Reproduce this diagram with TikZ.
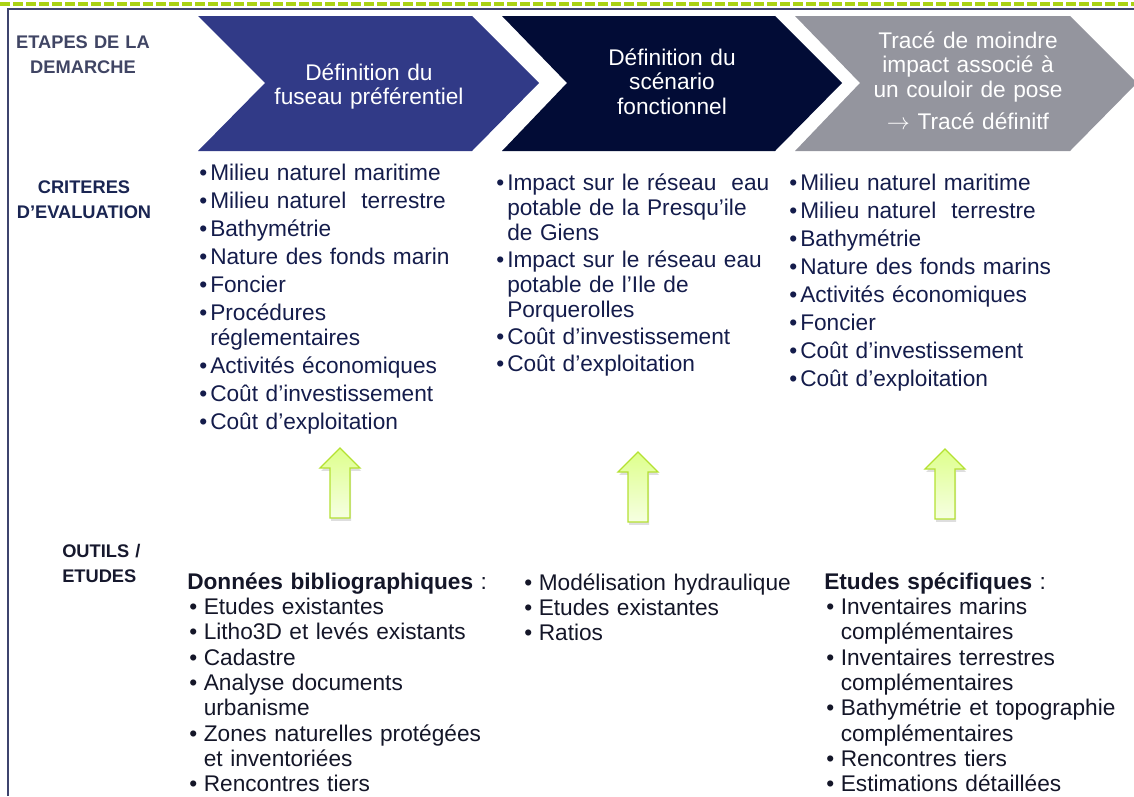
\documentclass[tikz,border=0pt]{standalone}
\usepackage{fontspec}
\setmainfont{Liberation Sans}
\usetikzlibrary{shadows}

\definecolor{stepblue}{RGB}{49,58,135}
\definecolor{stepnavy}{RGB}{2,12,54}
\definecolor{stepgray}{RGB}{148,149,158}
\definecolor{framecol}{RGB}{62,68,110}
\definecolor{dashgreen}{RGB}{170,210,20}
\definecolor{lblgray}{RGB}{64,69,100}
\definecolor{lblnavy}{RGB}{26,37,82}
\definecolor{lbldark}{RGB}{22,24,45}
\definecolor{crittext}{RGB}{20,28,75}
\definecolor{tooltext}{RGB}{20,22,40}
\definecolor{arrowedge}{RGB}{180,225,50}
\definecolor{arrowtop}{RGB}{222,255,140}
\definecolor{arrowbot}{RGB}{246,255,226}

\newcommand{\critbul}{\makebox[8.25pt][l]{•}}
\newcommand{\critind}{\hspace*{8.25pt}}
\newcommand{\toolbul}{\makebox[12.4pt][l]{\hspace{1.5pt}•}}
\newcommand{\toolind}{\hspace*{12.4pt}}

\tikzset{
  chevtext/.style={text=white, align=center, text width=160pt, inner sep=0pt, anchor=base,
    font={\fontsize{17pt}{18.4pt}\selectfont}},
  lbl/.style={align=center, text width=110pt, inner sep=0pt, anchor=base,
    font={\bfseries\fontsize{13.7pt}{18.75pt}\selectfont}},
  crit/.style={align=left, text width=240pt, inner sep=0pt, anchor=base west, text=crittext,
    font={\fontsize{17pt}{18.75pt}\selectfont}},
  tools/.style={align=left, text width=240pt, inner sep=0pt, anchor=base west, text=tooltext,
    font={\fontsize{17pt}{19pt}\selectfont}},
  uparrow/.style={draw=arrowedge, line width=1pt, top color=arrowtop, bottom color=arrowbot,
    drop shadow={shadow xshift=0.8pt, shadow yshift=-2.2pt, opacity=0.13, fill=black}}
}

\begin{document}
\begin{tikzpicture}[x=0.75pt, y=-0.75pt]
  \useasboundingbox (0,0) rectangle (1134,796);
  % rules and frame
  \draw[dashgreen, line width=3pt, dash pattern=on 7.5pt off 2.25pt] (0,4) -- (1134,4);
  \draw[framecol, line width=1.3pt] (8,796) -- (8,9) -- (1134,9);

  % steps
  \fill[stepblue] (198,16) -- (472,16) -- (539,83) -- (472,151) -- (198,151) -- (265,83) -- cycle;
  \fill[stepnavy] (502,16) -- (775,16) -- (842,83) -- (775,151) -- (502,151) -- (567,83) -- cycle;
  \fill[stepgray] (795,16) -- (1070,16) -- (1137,83) -- (1070,151) -- (795,151) -- (860,83) -- cycle;
  \node[chevtext] (step1) at (369,80) {Définition du\\fuseau préférentiel};
  \node[chevtext] (step2) at (672,65) {Définition du\\scénario\\fonctionnel};
  \node[chevtext] (step3) at (968,48) {Tracé de moindre\\impact associé à\\un couloir de pose\\[6pt]$\rightarrow$ Tracé définitf};

  % row labels
  \node[lbl, text=lblgray] (etapes) at (83,48) {ETAPES DE LA\\DEMARCHE};
  \node[lbl, text=lblnavy] (criteres) at (84,193) {CRITERES\\D’EVALUATION};
  \node[lbl, text=lbldark, align=left, anchor=base west] (outils) at (62,557) {OUTILS /\\ETUDES};

  % criteria
  \node[crit] (crit1) at (199,180) {\critbul Milieu naturel maritime\\[2.25pt]
    \critbul Milieu naturel~ terrestre\\[2.25pt]
    \critbul Bathymétrie\\[2.25pt]
    \critbul Nature des fonds marin\\[2.25pt]
    \critbul Foncier\\[2.25pt]
    \critbul Procédures\\
    \critind réglementaires\\[2.25pt]
    \critbul Activités économiques\\[2.25pt]
    \critbul Coût d'investissement\\[2.25pt]
    \critbul Coût d'exploitation};
  \node[crit] (crit2) at (496,190) {\critbul Impact sur le réseau~ eau\\
    \critind potable de la Presqu'ile\\
    \critind de Giens\\[1.5pt]
    \critbul Impact sur le réseau eau\\
    \critind potable de l'Ile de\\
    \critind Porquerolles\\[1.5pt]
    \critbul Coût d'investissement\\[1.5pt]
    \critbul Coût d'exploitation};
  \node[crit] (crit3) at (789,190) {\critbul Milieu naturel maritime\\[2.25pt]
    \critbul Milieu naturel~ terrestre\\[2.25pt]
    \critbul Bathymétrie\\[2.25pt]
    \critbul Nature des fonds marins\\[2.25pt]
    \critbul Activités économiques\\[2.25pt]
    \critbul Foncier\\[2.25pt]
    \critbul Coût d'investissement\\[2.25pt]
    \critbul Coût d'exploitation};

  % arrows
  \draw[uparrow] (330,518) -- (330,468) -- (320,468) -- (340,448) -- (360,468) -- (350,468) -- (350,518) -- cycle;
  \draw[uparrow] (628,522) -- (628,472) -- (618,472) -- (638,452) -- (658,472) -- (648,472) -- (648,522) -- cycle;
  \draw[uparrow] (935,519) -- (935,469) -- (925,469) -- (945,449) -- (965,469) -- (955,469) -- (955,519) -- cycle;

  % tools
  \node[tools] (tool1) at (187,589) {\textbf{Données bibliographiques} :\\
    \toolbul Etudes existantes\\
    \toolbul Litho3D et levés existants\\
    \toolbul Cadastre\\
    \toolbul Analyse documents\\
    \toolind urbanisme\\
    \toolbul Zones naturelles protégées\\
    \toolind et inventoriées\\
    \toolbul Rencontres tiers};
  \node[tools] (tool2) at (522,590) {\toolbul Modélisation hydraulique\\
    \toolbul Etudes existantes\\
    \toolbul Ratios};
  \node[tools] (tool3) at (824,589) {\textbf{Etudes spécifiques} :\\
    \toolbul Inventaires marins\\
    \toolind complémentaires\\
    \toolbul Inventaires terrestres\\
    \toolind complémentaires\\
    \toolbul Bathymétrie et topographie\\
    \toolind complémentaires\\
    \toolbul Rencontres tiers\\
    \toolbul Estimations détaillées};
\end{tikzpicture}
\end{document}
